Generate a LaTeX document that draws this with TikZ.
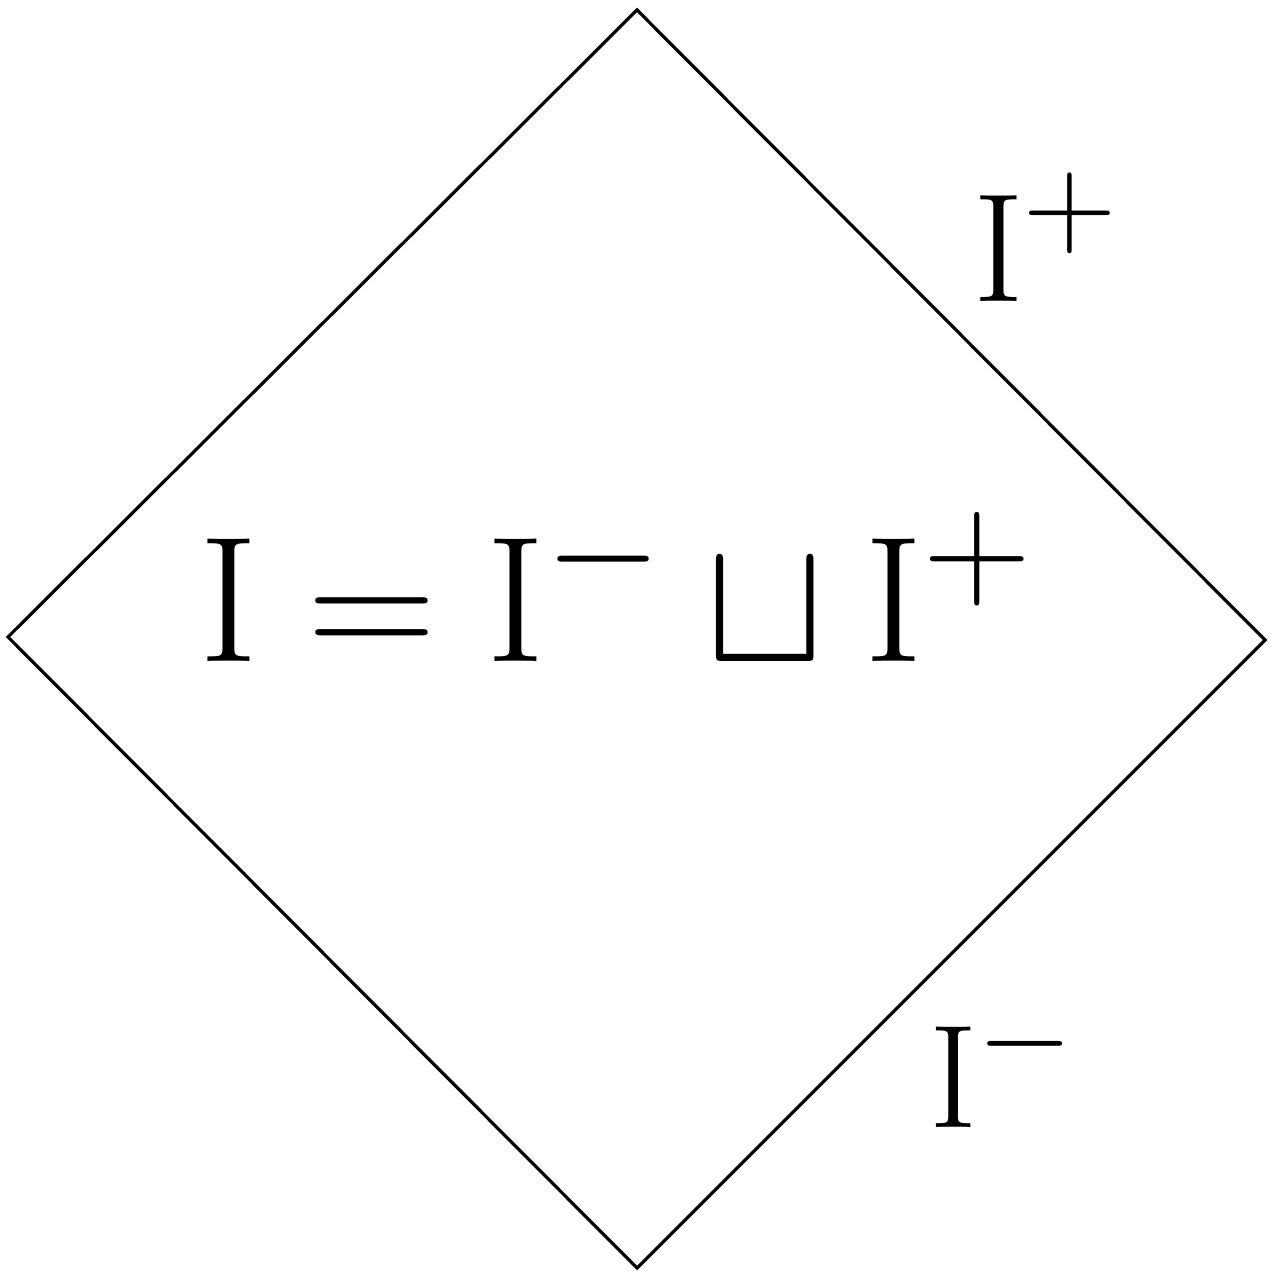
\documentclass[tikz,border=0pt]{standalone}
\usepackage{amsmath,amssymb}
\usepackage{tikz}
\usetikzlibrary{positioning}

\begin{document}
\begin{tikzpicture}[
  edge/.style={draw=black, line width=0.9pt, line join=miter},
  scri/.style={inner sep=0pt, anchor=base west, font=\Huge, scale=1.77},
  eqn/.style={inner sep=0pt, anchor=base west, font=\Huge, scale=2.05}
]
\useasboundingbox (0,0) rectangle (12.72,12.80);

% ---- Diamond corners ----
\coordinate (top)    at (6.37,12.70);
\coordinate (left)   at (0.08,6.43);
\coordinate (right)  at (12.65,6.40);
\coordinate (bottom) at (6.37,0.12);

\draw[edge] (top) -- (right) -- (bottom) -- (left) -- cycle;

% ---- Null infinity labels ----
\node[scri] (scriplus)  at (9.72,9.78) {$\mathrm{I}^{+}$};
\node[scri, scale=0.95] (scriminus) at (9.28,1.52) {$\mathrm{I}^{-}$};

% ---- Union ----
\node[eqn] (union) at (1.98,6.18)
  {$\mathrm{I}=\mathrm{I}^{-}\sqcup\mathrm{I}^{+}$};

\end{tikzpicture}
\end{document}
